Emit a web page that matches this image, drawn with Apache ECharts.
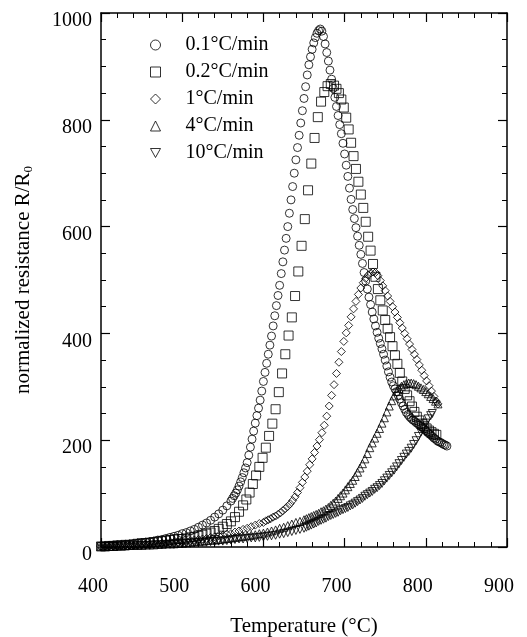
<!DOCTYPE html>
<html>
<head>
<meta charset="utf-8">
<script src="https://cdn.jsdelivr.net/npm/echarts@6/dist/echarts.min.js"></script>
<style>
  html, body { margin: 0; padding: 0; background: #fff; }
  #main { width: 527px; height: 637px; }
</style>
</head>
<body>
<div id="main"></div>
<script>
  // 升温速率 -> [温度(°C), R/R0]
  const rate01 = [[400,2],[405,2],[410,3],[415,3],[420,4],[425,4],[430,5],[435,5],[440,6],[445,7],[450,8],[455,9],[460,10],[465,11],[470,13],[475,14],[480,16],[485,18],[490,20],[495,22],[500,25],[505,27],[510,30],[515,33],[520,37],[525,41],[530,45],[535,50],[540,56],[545,62],[550,69],[555,77],
    [560,86],[562,91],[564,96],[566,101],[568,107],[570,114],[572,122],[574,130],[576,139],[578,148],[580,158],[582,172],[584,187],[586,202],[588,217],[590,232],[592,246],[594,260],[596,275],[598,292],[600,310],[602,327],[604,344],[606,361],[608,378],[610,395],[612,414],[614,433],[616,452],[618,471],[620,490],[622,512],[624,534],[626,556],[628,578],[630,600],[632,625],[634,650],[636,675],[638,700],[640,725],[642,748],[644,771],[646,794],[648,817],[650,840],[652,862],[654,884],[656,903],[658,918],[660,932],[662,944],[664,954],[666,962],[668,967],[670,970],
    [672,966],[674,956],[676,942],[678,926],[680,910],[682,893],[684,876],[686,859],[688,842],[690,825],[692,808],[694,791],[696,774],[698,756],[700,736],[702,715],[704,694],[706,672],[708,651],[710,632],[712,615],[714,598],[716,582],[718,565],[720,548],[722,531],[724,514],[726,498],[728,483],[730,468],[732,454],[734,440],[736,427],[738,414],[740,402],[742,391],[744,381],[746,371],[748,361],[750,350],[752,339],[754,328],[756,318],[758,309],[760,302],[762,296],[764,291],[766,284],[768,277],[770,270],[772,264],[774,258],[776,252],[778,248],[780,244],[782,241],[784,238],[786,236],[788,233],[790,231],[792,228],[794,226],[796,224],[798,221],[800,218],[802,215],[804,212],[806,210],[808,207],[810,204],[812,202],[814,199],[816,197],[818,196],[820,194],[822,192],[824,191],[826,189]]

  const rate02 = [[400,1],[405,1],[410,2],[415,2],[420,3],[425,3],[430,4],[435,4],[440,5],[445,6],[450,7],[455,7],[460,8],[465,9],[470,10],[475,11],[480,12],[485,13],[490,14],[495,15],[500,15],[505,16],[510,18],[515,19],[520,21],[525,23],[530,25],[535,27],[540,30],[545,34],[550,38],[555,43],[560,48],[565,56],[570,66],[575,78],
    [579,89],[583,102],[587,118],[591,134],[595,150],[599,167],[603,186],[607,208],[611,231],[615,258],[619,290],[623,325],[627,361],[631,396],[635,430],[639,470],[643,516],[647,564],[651,614],[655,668],[659,718],[663,766],[667,805],[671,834],[675,852],[679,863],[683,867],[687,864],
    [690,858],[693,850],[696,838],[699,823],[702,804],[705,782],[708,757],[711,732],[714,708],[717,684],[720,660],[723,635],[726,609],[729,581],[732,555],[735,530],[738,506],[741,483],[744,462],[747,443],[750,425],[753,409],[756,393],[759,376],[762,359],[765,343],[768,326],[771,310],[774,296],[777,284],[780,273],[783,263],[786,253],[789,244],[792,237],[795,231],[798,226],[801,222],[804,218],[807,215],[810,212],[813,210]]

  const rate1 = [[400,1],[405,1],[410,1],[415,2],[420,2],[425,2],[430,3],[435,3],[440,3],[445,4],[450,4],[455,5],[460,5],[465,6],[470,6],[475,7],[480,7],[485,8],[490,9],[495,9],[500,10],[505,11],[510,12],[515,13],[520,14],[525,15],[530,16],[535,18],[540,19],[545,21],[550,22],[555,24],[560,25],[565,28],[570,30],[575,33],[580,35],[585,38],[590,41],[595,44],[600,46],
    [603,49],[606,51],[609,53],[612,56],[615,58],[618,61],[621,64],[624,68],[627,72],[630,76],[633,81],[636,87],[639,94],[642,102],[645,111],[648,121],[651,131],[654,142],[657,154],[660,165],[663,177],[666,189],[669,201],[672,214],[675,228],[678,245],[681,264],[684,284],[687,304],[690,325],[693,346],[696,366],[699,385],[702,401],[705,415],[708,431],[711,446],[714,460],[717,473],[720,485],[723,495],[726,503],[729,509],[732,513],[735,515],
    [738,514],[741,508],[744,499],[747,489],[750,480],[753,470],[756,460],[759,450],[762,440],[765,430],[768,420],[771,410],[774,400],[777,390],[780,380],[783,370],[786,361],[789,351],[792,341],[795,331],[798,321],[801,311],[804,302],[807,292],[810,282],[813,273],[815,268]]

  const rate4 = [[400,1],[405,1],[410,1],[415,1],[420,2],[425,2],[430,2],[435,3],[440,3],[445,3],[450,3],[455,4],[460,4],[465,4],[470,5],[475,5],[480,6],[485,6],[490,6],[495,7],[500,7],[505,8],[510,9],[515,10],[520,11],[525,11],[530,12],[535,13],[540,13],[545,14],[550,15],[555,16],[560,17],[565,18],[570,19],[575,20],[580,21],[585,22],[590,23],[595,25],[600,26],[605,28],[610,30],[615,32],[620,35],[625,37],[630,40],[635,43],[640,46],[645,48],[650,51],
    [653,53],[656,55],[659,57],[662,59],[665,61],[668,63],[671,66],[674,68],[677,71],[680,74],[683,78],[686,82],[689,86],[692,91],[695,96],[698,101],[701,107],[704,113],[707,119],[710,125],[713,132],[716,140],[719,148],[722,156],[725,165],[728,175],[731,186],[734,195],[737,204],[740,213],[743,222],[746,232],[749,242],[752,253],[755,264],[758,274],[761,283],[764,291],[767,297],[770,301],[773,304],[776,306],[779,307],[782,307],[785,306],[788,304],[791,301],[794,298],[797,295],[800,291],[803,287],[806,282],[809,278],[812,273],[815,268]]

  const rate10 = [[400,1],[405,1],[410,1],[415,1],[420,1],[425,2],[430,2],[435,2],[440,2],[445,3],[450,3],[455,3],[460,3],[465,4],[470,4],[475,4],[480,5],[485,5],[490,5],[495,6],[500,6],[505,7],[510,7],[515,8],[520,8],[525,9],[530,9],[535,10],[540,10],[545,11],[550,11],[555,12],[560,13],[565,14],[570,15],[575,15],[580,16],[585,17],[590,17],[595,18],[600,19],[605,20],[610,21],[615,22],[620,24],[625,25],[630,27],[635,29],[640,31],[645,33],[650,35],
    [653,37],[656,39],[659,41],[662,43],[665,45],[668,48],[671,50],[674,52],[677,54],[680,57],[683,59],[686,61],[689,63],[692,65],[695,68],[698,70],[701,72],[704,74],[707,77],[710,79],[713,82],[716,85],[719,88],[722,91],[725,95],[728,98],[731,101],[734,104],[737,108],[740,111],[743,115],[746,119],[749,124],[752,129],[755,134],[758,139],[761,144],[764,150],[767,156],[770,162],[773,168],[776,174],[779,179],[782,185],[785,192],[788,199],[791,207],[794,215],[797,223],[800,232],[803,240],[806,246],[808,250]]

  const rateNames = ['0.1°C/min', '0.2°C/min', '1°C/min', '4°C/min', '10°C/min']
  const xTicks = { min: 400, max: 900, step: 100 }
  const yTicks = { min: 0, max: 1000, step: 200 }

  const serif = 'Liberation Serif, Times New Roman, serif'
  const downTri = 'path://M0,0L10,0L5,9Z'
  const markers = ['circle', 'rect', 'diamond', 'triangle', downTri]
  const sizes = [8, 9, 8, 8, 8]
  const allData = [rate01, rate02, rate1, rate4, rate10]

  const chart = echarts.init(document.getElementById('main'), null, { renderer: 'canvas' })

  // 坐标轴公共样式
  function axisBase (split) {
    return {
      axisLine: { show: true, onZero: false, lineStyle: { color: '#000', width: 1.5 } },
      axisTick: { show: true, inside: true, length: 9, lineStyle: { color: '#000', width: 1.2 } },
      minorTick: { show: true, splitNumber: split, length: 5, lineStyle: { color: '#000', width: 1 } },
      splitLine: { show: false },
      axisLabel: { show: false }
    }
  }

  const option = {
    animation: false,
    backgroundColor: '#fff',
    grid: { left: 101, right: 20, top: 13, bottom: 90, outerBoundsMode: 'none', containLabel: false },
    legend: {
      orient: 'vertical',
      left: 150,
      top: 35,
      padding: 0,
      itemWidth: 10,
      itemHeight: 10,
      itemGap: 7,
      textStyle: { fontFamily: serif, fontSize: 20, color: '#000', lineHeight: 20, padding: [0, 0, 0, 20] },
      itemStyle: { color: 'transparent', borderColor: '#000', borderWidth: 1 },
      data: rateNames.map(function (n, i) { return { name: n, icon: markers[i] } })
    },
    xAxis: [
      Object.assign(axisBase(5), {
        type: 'value', position: 'bottom', min: xTicks.min, max: xTicks.max, interval: xTicks.step,
        axisLabel: { show: true, margin: 30, fontFamily: serif, fontSize: 20, color: '#000', padding: [0, 16, 0, 0] },
        name: 'Temperature (°C)', nameLocation: 'middle', nameGap: 69,
        nameTextStyle: { fontFamily: serif, fontSize: 21, color: '#000' }
      }),
      Object.assign(axisBase(5), {
        type: 'value', position: 'top', min: xTicks.min, max: xTicks.max, interval: xTicks.step
      })
    ],
    yAxis: [
      Object.assign(axisBase(4), {
        type: 'value', position: 'left', min: yTicks.min, max: yTicks.max, interval: yTicks.step,
        axisLabel: {
          show: true, margin: 9, fontFamily: serif, fontSize: 20, color: '#000',
          verticalAlign: 'top', lineHeight: 16,
          formatter: function (v) { return String(v) }
        },
        name: '{a|normalized resistance R/R}{b|0}', nameLocation: 'middle', nameGap: 66,
        nameTextStyle: {
          fontFamily: serif, fontSize: 21, color: '#000',
          rich: {
            a: { fontFamily: serif, fontSize: 21, color: '#000', lineHeight: 24 },
            b: { fontFamily: serif, fontSize: 13, color: '#000', lineHeight: 13, padding: [12, 0, 0, 0] }
          }
        }
      }),
      Object.assign(axisBase(4), {
        type: 'value', position: 'right', min: yTicks.min, max: yTicks.max, interval: yTicks.step
      })
    ],
    series: allData.map(function (d, i) {
      return {
        name: rateNames[i],
        type: 'scatter',
        symbol: markers[i],
        symbolSize: sizes[i],
        itemStyle: { color: 'transparent', borderColor: '#000', borderWidth: 1 },
        emphasis: { disabled: true },
        data: d
      }
    })
  }

  chart.setOption(option)
</script>
</body>
</html>
